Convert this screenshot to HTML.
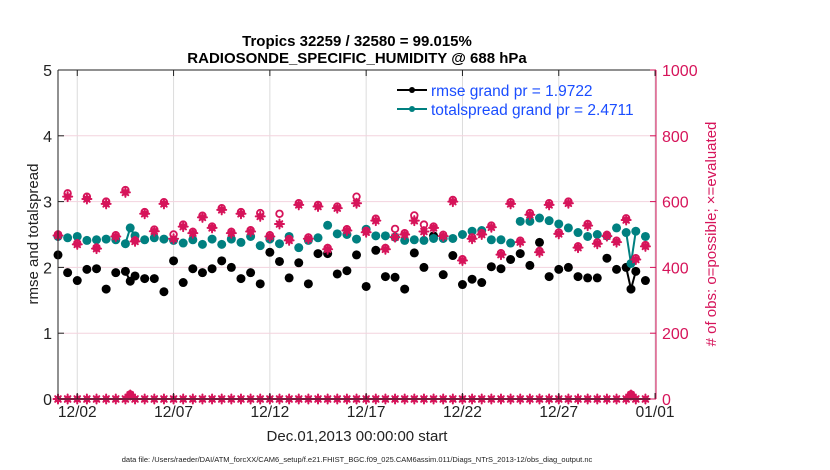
<!DOCTYPE html>
<html><head><meta charset="utf-8"><style>
html,body{margin:0;padding:0;background:#fff;}
svg{display:block;font-family:"Liberation Sans",Arial,sans-serif;}
</style></head><body>
<svg id="chart" width="830" height="470" viewBox="0 0 830 470">
<text x="357" y="46" text-anchor="middle" font-size="15" font-weight="bold" fill="#000">Tropics 32259 / 32580 = 99.015%</text>
<text x="357" y="63" text-anchor="middle" font-size="15" font-weight="bold" fill="#000">RADIOSONDE_SPECIFIC_HUMIDITY @ 688 hPa</text>
<g id="grid"></g>
<g id="marks"></g>
<line x1="58" y1="70" x2="656" y2="70" stroke="#222" stroke-width="1"/>
<line x1="58" y1="70" x2="58" y2="399" stroke="#222" stroke-width="1"/>
<line x1="58" y1="399" x2="656" y2="399" stroke="#222" stroke-width="1"/>
<line x1="656" y1="70" x2="656" y2="399" stroke="#d6145a" stroke-width="1"/>
<g id="ticks"></g>
<text transform="translate(38,234) rotate(-90)" text-anchor="middle" font-size="15" fill="#222">rmse and totalspread</text>
<text transform="translate(716,234) rotate(-90)" text-anchor="middle" font-size="15" fill="#d6145a"># of obs: o=possible; ×=evaluated</text>
<text x="357" y="441" text-anchor="middle" font-size="15" fill="#222">Dec.01,2013 00:00:00 start</text>
<text x="357" y="462" text-anchor="middle" font-size="7.5" fill="#222">data file: /Users/raeder/DAI/ATM_forcXX/CAM6_setup/f.e21.FHIST_BGC.f09_025.CAM6assim.011/Diags_NTrS_2013-12/obs_diag_output.nc</text>
<g>
<line x1="397" y1="90" x2="427" y2="90" stroke="#000" stroke-width="2"/>
<circle cx="412" cy="90" r="3" fill="#000"/>
<text x="431" y="96" font-size="15.5" fill="#1a4dff">rmse grand pr = 1.9722</text>
<line x1="397" y1="109" x2="427" y2="109" stroke="#008080" stroke-width="2"/>
<circle cx="412" cy="109" r="3" fill="#008080"/>
<text x="431" y="115" font-size="15.5" fill="#1a4dff">totalspread grand pr = 2.4711</text>
</g>
</svg>
<script>
const days = [0,0.5,1,1.5,2,2.5,3,3.5,3.75,4,4.5,5,5.5,6,6.5,7,7.5,8,8.5,9,9.5,10,10.5,11,11.5,12,12.5,13,13.5,14,14.5,15,15.5,16,16.5,17,17.5,18,18.5,19,19.5,20,20.5,21,21.5,22,22.5,23,23.5,24,24.5,25,25.5,26,26.5,27,27.5,28,28.5,29,29.5,29.75,30,30.5];
const rmse = [2.19,1.92,1.80,1.97,1.98,1.67,1.92,1.94,1.79,1.87,1.83,1.83,1.63,2.10,1.77,1.98,1.92,1.98,2.10,2.00,1.83,1.92,1.75,2.23,2.09,1.84,2.07,1.75,2.21,2.21,1.90,1.95,2.19,1.71,2.26,1.86,1.85,1.67,2.22,2.00,2.48,1.89,2.18,1.74,1.82,1.77,2.01,1.98,2.12,2.21,2.03,2.38,1.86,1.97,2.00,1.86,1.84,1.84,2.14,1.97,2.00,1.67,1.94,1.80];
const spread = [2.47,2.45,2.47,2.41,2.42,2.43,2.42,2.36,2.60,2.48,2.42,2.45,2.43,2.41,2.37,2.42,2.35,2.43,2.35,2.43,2.38,2.47,2.33,2.43,2.36,2.47,2.30,2.41,2.45,2.64,2.51,2.50,2.43,2.58,2.48,2.48,2.46,2.41,2.42,2.41,2.44,2.44,2.44,2.50,2.55,2.56,2.42,2.42,2.37,2.70,2.70,2.75,2.71,2.66,2.60,2.53,2.47,2.50,2.48,2.60,2.53,2.06,2.55,2.47];
const evaluated = [497,615,470,608,457,593,494,628,12,479,563,510,593,487,524,504,552,520,575,504,563,509,555,494,532,482,590,487,585,455,580,512,595,507,542,455,492,500,542,509,520,495,600,421,487,500,522,439,593,477,560,446,590,502,595,460,527,472,495,477,544,12,424,464];
const possible = [500,625,473,615,460,600,498,635,14,482,568,515,598,500,530,508,557,524,580,508,568,513,565,498,563,486,595,491,590,459,585,516,615,511,548,459,517,504,558,530,524,499,605,425,491,504,527,443,598,481,565,450,595,506,600,464,532,476,499,481,549,14,428,468];
const obsZero = [0,0,0,0,0,0,0,0,0,0,0,0,0,0,0,0,0,0,0,0,0,0,0,0,0,0,0,0,0,0,0,0,0,0,0,0,0,0,0,0,0,0,0,0,0,0,0,0,0,0,0,0,0,0,0,0,0,0,0,0,0,0,0,0];
const xTickDays = [1,6,11,16,21,26,31];
const xTickLabels = ["12/02","12/07","12/12","12/17","12/22","12/27","01/01"];
const yLeftTicks = [0,1,2,3,4,5];
const yRightTicks = [0,200,400,600,800,1000];

const NS = "http://www.w3.org/2000/svg";
const X = d => 58 + d * 19.26;
const YL = v => 399 - v * 65.8;
const YR = v => 399 - v * 0.329;
function mk(tag, attrs, parent){ const e = document.createElementNS(NS, tag); for (const k in attrs) e.setAttribute(k, attrs[k]); parent.appendChild(e); return e; }
const grid = document.getElementById('grid'), marks = document.getElementById('marks'), ticks = document.getElementById('ticks');

xTickDays.forEach((d,i)=>{
  const g = mk('line',{x1:X(d),x2:X(d),y1:70,y2:399,stroke:'#dcdcdc','stroke-width':1},grid);
  
  
  const t = mk('line',{x1:X(d),x2:X(d),y1:399,y2:393,stroke:'#222'},ticks);
  
  
  const tt = mk('line',{x1:X(d),x2:X(d),y1:70,y2:76,stroke:'#222'},ticks);
  
  
  const l = mk('text',{x:X(d),y:417,'text-anchor':'middle','font-size':15.5,fill:'#222'},ticks);
  l.textContent = xTickLabels[i];
  
  
});
yLeftTicks.forEach(v=>{
  if (v>0 && v<5){
    const g = mk('line',{x1:58,x2:656,y1:YL(v),y2:YL(v),stroke:'#f3d3de','stroke-width':1},grid);
    
    
  }
  const t = mk('line',{x1:58,x2:64,y1:YL(v),y2:YL(v),stroke:'#222'},ticks);
  
  
  const l = mk('text',{x:52,y:YL(v)+6,'text-anchor':'end','font-size':16,fill:'#222'},ticks);
  l.textContent = v;
  
  
});
yRightTicks.forEach(v=>{
  const t = mk('line',{x1:650,x2:656,y1:YR(v),y2:YR(v),stroke:'#d6145a'},ticks);
  
  
  const l = mk('text',{x:662,y:YR(v)+6,'font-size':16,fill:'#d6145a'},ticks);
  l.textContent = v;
  
  
});

function series(vals, color, name){
  for (let i=1;i<days.length;i++){
    if (days[i]-days[i-1] < 0.4){
      const s = mk('line',{x1:X(days[i-1]),y1:YL(vals[i-1]),x2:X(days[i]),y2:YL(vals[i]),stroke:color,'stroke-width':2},marks);
      
      
    }
  }
  vals.forEach((v,i)=>{
    const c = mk('circle',{cx:X(days[i]),cy:YL(v),r:4.5,fill:color},marks);
    
    
  });
}
function star(x,y,name){
  const g = mk('g',{stroke:'#d6145a','stroke-width':2,'stroke-linecap':'round'},marks);
  
  
  mk('line',{x1:x-4.5,y1:y,x2:x+4.5,y2:y},g);
  mk('line',{x1:x,y1:y-4.5,x2:x,y2:y+4.5},g);
  mk('line',{x1:x-2.8,y1:y-2.8,x2:x+2.8,y2:y+2.8},g);
  mk('line',{x1:x-2.8,y1:y+2.8,x2:x+2.8,y2:y-2.8},g);
  mk('circle',{cx:x,cy:y,r:3.3,fill:'#d6145a',stroke:'none'},g);
}
series(rmse,'#000','rmse');
series(spread,'#008080','totalspread');
possible.forEach((v,i)=>{
  const c = mk('circle',{cx:X(days[i]),cy:YR(v),r:3.3,fill:'none',stroke:'#d6145a','stroke-width':1.8},marks);
  
  
});
evaluated.forEach((v,i)=>{ star(X(days[i]),YR(v),'evaluated-obs-point'); });
obsZero.forEach((v,i)=>{ if (evaluated[i] > 100) star(X(days[i]),YR(v),'zero-obs-point'); });
</script>
</body></html>
